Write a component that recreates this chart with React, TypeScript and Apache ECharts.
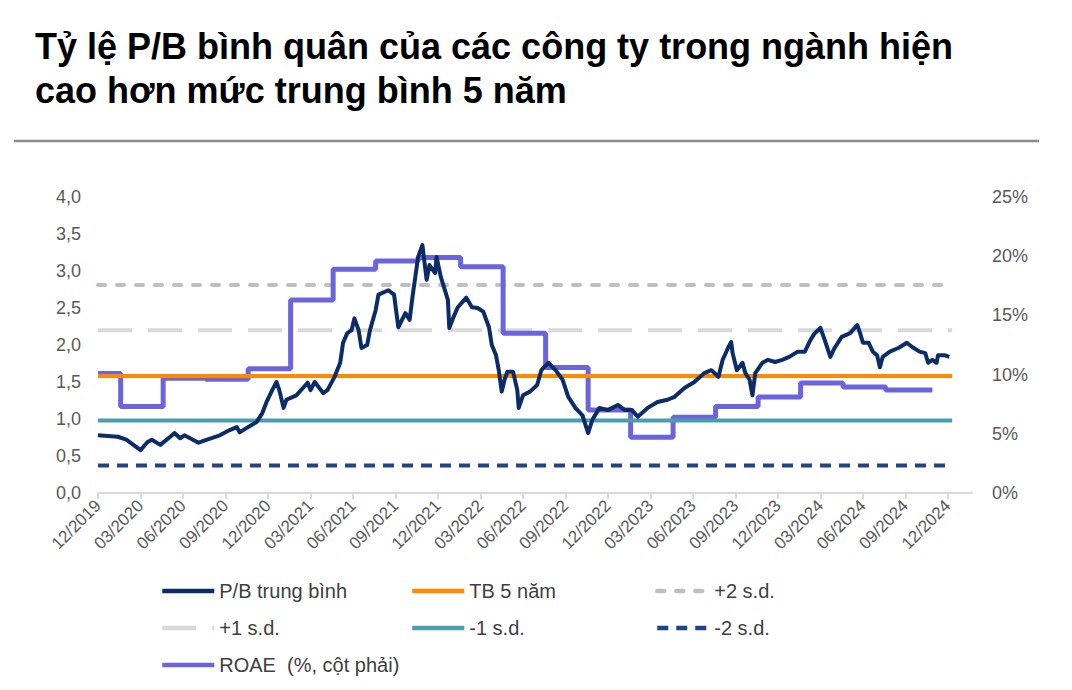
import React, { useEffect, useRef } from 'react';
import * as echarts from 'echarts';

const FF = '"Liberation Sans", Arial, sans-serif';

const titleText = 'Tỷ lệ P/B bình quân của các công ty trong ngành hiện\ncao hơn mức trung bình 5 năm';

// x axis: months after 12/2019
const xTickMonths = [0, 3, 6, 9, 12, 15, 18, 21, 24, 27, 30, 33, 36, 39, 42, 45, 48, 51, 54, 57, 60];
const xTickLabels = [
  '12/2019', '03/2020', '06/2020', '09/2020', '12/2020', '03/2021', '06/2021', '09/2021',
  '12/2021', '03/2022', '06/2022', '09/2022', '12/2022', '03/2023', '06/2023', '09/2023',
  '12/2023', '03/2024', '06/2024', '09/2024', '12/2024',
];

// P/B trung bình
const pbMonths = [
  0.0, 0.7, 1.4, 2.0, 2.5, 3.0, 3.5, 3.8, 4.4, 5.1, 5.4, 5.8, 6.1, 6.7, 7.1, 7.7, 8.6, 9.3, 9.8, 10.0,
  10.5, 11.2, 11.6, 11.9, 12.3, 12.6, 12.8, 13.1, 13.3, 14.0, 14.8, 15.0, 15.3, 15.9, 16.2, 16.7, 17.1, 17.3, 17.6, 17.9,
  18.1, 18.4, 18.6, 19.0, 19.2, 19.6, 19.8, 20.5, 20.9, 21.2, 21.7, 22.0, 22.2, 22.6, 22.9, 23.2, 23.4, 23.8, 23.9, 24.2,
  24.7, 24.8, 25.1, 25.4, 26.0, 26.4, 26.8, 27.2, 27.6, 27.8, 28.1, 28.3, 28.5, 28.7, 28.9, 29.3, 29.6, 29.7, 30.0, 30.5,
  31.0, 31.3, 31.8, 32.3, 32.8, 33.2, 33.7, 34.2, 34.6, 34.9, 35.4, 36.0, 36.7, 37.2, 37.7, 38.1, 38.8, 39.5, 40.2, 40.7,
  41.4, 42.1, 42.8, 43.3, 43.8, 44.1, 44.5, 44.7, 44.8, 45.1, 45.5, 45.7, 46.0, 46.2, 46.4, 46.9, 47.3, 47.8, 48.3, 48.8,
  49.4, 49.9, 50.3, 50.6, 51.0, 51.3, 51.7, 52.0, 52.5, 53.1, 53.6, 53.8, 54.0, 54.4, 54.7, 55.0, 55.2, 55.4, 55.9, 56.5,
  57.1, 57.5, 58.0, 58.4, 58.6, 58.9, 59.2, 59.3, 59.8, 60.1,
];
const pbValues = [
  0.78, 0.77, 0.76, 0.72, 0.65, 0.58, 0.69, 0.72, 0.65, 0.76, 0.81, 0.74, 0.78, 0.72, 0.68, 0.72, 0.78, 0.85, 0.89, 0.82,
  0.88, 0.96, 1.08, 1.23, 1.39, 1.50, 1.39, 1.15, 1.26, 1.32, 1.49, 1.39, 1.50, 1.35, 1.39, 1.57, 1.76, 2.03, 2.16, 2.20,
  2.36, 2.20, 1.96, 2.00, 2.20, 2.47, 2.68, 2.74, 2.68, 2.24, 2.43, 2.34, 2.65, 3.19, 3.35, 2.88, 3.08, 2.97, 3.19, 2.92,
  2.61, 2.23, 2.38, 2.51, 2.64, 2.51, 2.50, 2.45, 2.24, 2.00, 1.86, 1.65, 1.37, 1.53, 1.64, 1.64, 1.39, 1.15, 1.32, 1.37,
  1.46, 1.66, 1.76, 1.66, 1.53, 1.30, 1.15, 1.05, 0.81, 0.99, 1.15, 1.12, 1.19, 1.12, 1.12, 1.03, 1.15, 1.23, 1.26, 1.30,
  1.42, 1.50, 1.62, 1.66, 1.57, 1.80, 1.97, 2.04, 1.89, 1.66, 1.76, 1.62, 1.53, 1.32, 1.62, 1.76, 1.80, 1.77, 1.80, 1.84,
  1.91, 1.91, 2.07, 2.16, 2.23, 2.07, 1.84, 1.96, 2.11, 2.16, 2.27, 2.16, 2.03, 2.03, 1.91, 1.86, 1.70, 1.84, 1.91, 1.96,
  2.03, 1.97, 1.91, 1.89, 1.76, 1.80, 1.76, 1.86, 1.86, 1.84,
];

// ROAE (%), quarterly steps
const roaeMonths = [0, 1.6, 4.6, 7.6, 10.6, 13.6, 16.6, 19.6, 22.6, 25.6, 28.6, 31.6, 34.6, 37.6, 40.6, 43.6, 46.6, 49.6, 52.6, 55.6, 58.9];
const roaeValues = [10.1, 7.3, 9.7, 9.6, 10.5, 16.3, 18.9, 19.6, 19.9, 19.1, 13.5, 10.6, 7.0, 4.7, 6.4, 7.3, 8.1, 9.3, 8.95, 8.7, 8.7];

// Reference levels
const levelNames = ['TB 5 năm', '+2 s.d.', '+1 s.d.', '-1 s.d.', '-2 s.d.'];
const levelValues = [1.58, 2.81, 2.2, 0.98, 0.37];
const levelSpan = [0, 60.3];

const PB_NAME = 'P/B trung bình';
const ROAE_NAME = 'ROAE  (%, cột phải)';

const levelStyles: Record<string, any> = {
  'TB 5 năm': { color: '#ff8a00', width: 4, type: 'solid' },
  '+2 s.d.': { color: '#bfbfbf', width: 4, type: [7, 12], cap: 'round' },
  '+1 s.d.': { color: '#d9d9d9', width: 4, type: [34, 16] },
  '-1 s.d.': { color: '#4b9dab', width: 4, type: 'solid' },
  '-2 s.d.': { color: '#22438a', width: 4, type: [11, 8] },
};

function levelSeries(name: string) {
  const i = levelNames.indexOf(name);
  const st = levelStyles[name];
  return {
    name,
    type: 'line',
    xAxisIndex: 0,
    yAxisIndex: 0,
    symbol: 'none',
    silent: true,
    lineStyle: { color: st.color, width: st.width, type: st.type, cap: st.cap || 'butt' },
    itemStyle: { color: st.color },
    data: levelSpan.map((m) => [m, levelValues[i]]),
  };
}

export default function App() {
  const ref = useRef<HTMLDivElement>(null);
  useEffect(() => {
    document.body.style.margin = '0';
    const chart = echarts.init(ref.current as HTMLDivElement, null, { renderer: 'svg' });
    const legendBase = {
      orient: 'vertical',
      padding: 0,
      itemWidth: 52,
      itemHeight: 1,
      itemGap: 15,
      selectedMode: false,
      lineStyle: { width: 4.5 },
      itemStyle: { opacity: 0 },
      textStyle: { fontSize: 20, color: '#404040', fontFamily: FF, lineHeight: 22 },
    };
    const option: any = {
      animation: false,
      backgroundColor: '#ffffff',
      title: {
        text: titleText,
        left: 30,
        top: 19,
        textStyle: { fontSize: 36, fontWeight: 'bold', color: '#000000', lineHeight: 44, fontFamily: FF },
      },
      graphic: [
        {
          type: 'line',
          shape: { x1: 14, y1: 141, x2: 1039, y2: 141 },
          style: { stroke: '#8c8c8c', lineWidth: 2.5 },
        },
      ],
      legend: [
        { ...legendBase, left: 160, top: 580, data: [PB_NAME, '+1 s.d.', ROAE_NAME] },
        { ...legendBase, left: 410, top: 580, data: ['TB 5 năm', '-1 s.d.'] },
        { ...legendBase, left: 655, top: 580, data: ['+2 s.d.', '-2 s.d.'] },
      ],
      grid: { left: 98, right: 100, top: 197, bottom: 197 },
      xAxis: {
        type: 'value',
        min: 0,
        max: 61.7,
        interval: 3,
        splitLine: { show: false },
        axisLine: { show: true, lineStyle: { color: '#d9d9d9', width: 2 } },
        axisTick: { show: true, customValues: xTickMonths, length: 6, lineStyle: { color: '#d9d9d9', width: 2 } },
        axisLabel: {
          customValues: xTickMonths,
          rotate: 45,
          margin: 10,
          fontSize: 17,
          color: '#595959',
          fontFamily: FF,
          formatter: (v: number) => {
            const idx = xTickMonths.indexOf(Math.round(v));
            return idx >= 0 ? xTickLabels[idx] : '';
          },
        },
      },
      yAxis: [
        {
          type: 'value',
          min: 0,
          max: 4,
          interval: 0.5,
          splitLine: { show: false },
          axisLine: { show: false },
          axisTick: { show: false },
          axisLabel: {
            fontSize: 18,
            color: '#595959',
            fontFamily: FF,
            margin: 17,
            formatter: (v: number) => v.toFixed(1).replace('.', ','),
          },
        },
        {
          type: 'value',
          min: 0,
          max: 25,
          interval: 5,
          position: 'right',
          splitLine: { show: false },
          axisLine: { show: false },
          axisTick: { show: false },
          axisLabel: {
            fontSize: 18,
            color: '#595959',
            fontFamily: FF,
            margin: 20,
            formatter: (v: number) => v + '%',
          },
        },
      ],
      series: [
        levelSeries('+2 s.d.'),
        levelSeries('+1 s.d.'),
        {
          name: ROAE_NAME,
          type: 'line',
          yAxisIndex: 1,
          step: 'end',
          symbol: 'none',
          lineStyle: { color: '#6c64dc', width: 5 },
          itemStyle: { color: '#6c64dc' },
          data: roaeMonths.map((m, i) => [m, roaeValues[i]]),
        },
        levelSeries('TB 5 năm'),
        levelSeries('-1 s.d.'),
        levelSeries('-2 s.d.'),
        {
          name: PB_NAME,
          type: 'line',
          yAxisIndex: 0,
          symbol: 'none',
          lineStyle: { color: '#0b2c66', width: 4, join: 'round' },
          itemStyle: { color: '#0b2c66' },
          data: pbMonths.map((m, i) => [m, pbValues[i]]),
        },
      ],
    };
    chart.setOption(option);
    return () => chart.dispose();
  }, []);
  return <div ref={ref} style={{ width: 1072, height: 690 }} />;
}
